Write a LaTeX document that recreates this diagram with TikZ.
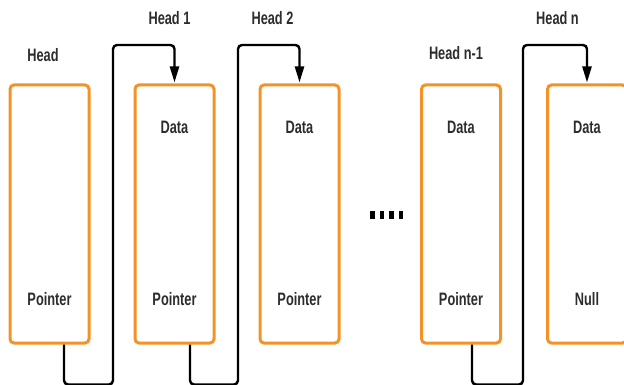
\documentclass[tikz,border=0pt]{standalone}
\usepackage{fontspec}
\usetikzlibrary{arrows.meta}
\newfontfamily\labfont[FakeStretch=0.71]{Liberation Sans Bold}
\definecolor{boxorange}{RGB}{243,146,38}
\definecolor{labgray}{RGB}{45,45,45}
\tikzset{
  cell/.style={draw=boxorange, line width=3pt, rounded corners=4pt,
    minimum width=79pt, minimum height=258pt, inner sep=0pt},
  lab/.style={font=\labfont\fontsize{18}{18}\selectfont, text=labgray, inner sep=0pt},
  link/.style={draw=black, line width=2.4pt, rounded corners=4pt,
    -{Triangle[length=16pt,width=9pt]}, shorten >=1pt},
  dotblock/.style={fill=black, draw=none}
}
\begin{document}
\begin{tikzpicture}[x=1pt,y=-1pt]
  \clip (0,0) rectangle (624,385);
  \useasboundingbox (0,0) rectangle (624,385);

  % list cells
  \node[cell] (b1) at (49.5,214) {};
  \node[cell] (b2) at (174.5,214) {};
  \node[cell] (b3) at (299.5,214) {};
  \node[cell] (b4) at (461,214) {};
  \node[cell] (b5) at (587,214) {};

  % cell contents
  \node[lab] (d2) at (174.5,127) {Data};
  \node[lab] (d3) at (299.5,127) {Data};
  \node[lab] (d4) at (461,127) {Data};
  \node[lab] (d5) at (587,127) {Data};
  \node[lab] (p1) at (49.5,299) {Pointer};
  \node[lab] (p2) at (174.5,299) {Pointer};
  \node[lab] (p3) at (299.5,299) {Pointer};
  \node[lab] (p4) at (461,299) {Pointer};
  \node[lab] (n5) at (587,299) {Null};

  % head labels
  \node[lab] (h0) at (43,55) {Head};
  \node[lab] (h1) at (169.5,18) {Head 1};
  \node[lab] (h2) at (272.5,18) {Head 2};
  \node[lab] (h4) at (456,53) {Head n-1};
  \node[lab] (h5) at (557.5,18) {Head n};

  % turning points of the links
  \coordinate (u1) at (113,45);
  \coordinate (u2) at (238,45);
  \coordinate (u4) at (523,45);

  % links from each pointer to the next cell
  \draw[link] ([xshift=14.5pt]b1.south) -- ++(0,40) -| (u1) -| (b2.north);
  \draw[link] ([xshift=15.5pt]b2.south) -- ++(0,40) -| (u2) -| (b3.north);
  \draw[link] ([xshift=11pt]b4.south) -- ++(0,40) -| (u4) -| (b5.north);

  % gap marker
  \foreach \x in {370,379.5,389,398.5}
    \fill[dotblock] (\x,211) rectangle ++(4.5,8);
\end{tikzpicture}
\end{document}
